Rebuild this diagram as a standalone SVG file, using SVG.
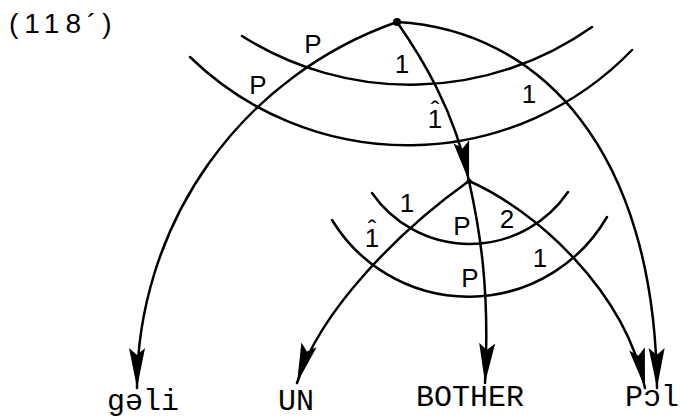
<svg xmlns="http://www.w3.org/2000/svg" width="680" height="419" viewBox="0 0 680 419">
<style>
.ln{fill:none;stroke:#000;stroke-width:2.5;stroke-linecap:round}
.lb{font-family:"Liberation Sans",Arial,sans-serif;font-size:26px;fill:#000;text-anchor:middle}
.tw{font-family:"Liberation Mono","Courier New",monospace;font-size:30px;fill:#000;text-anchor:middle}
</style>
<defs>
<marker id="ah" markerUnits="userSpaceOnUse" markerWidth="50" markerHeight="24" viewBox="-45 -12 50 24" refX="0" refY="0" orient="auto">
<path d="M0,0 L-40,-8 L-33,0 L-40,8 Z" fill="#000"/>
</marker>
</defs>
<rect width="680" height="419" fill="#fff"/>
<text x="9" y="33" font-family="Liberation Sans,Arial,sans-serif" font-size="28" letter-spacing="6" fill="#000">(118´)</text>
<g id="arcs">
<path class="ln" d="M242,36 A315,315 0 0,0 592,27"/>
<path class="ln" d="M190,57 A312,312 0 0,0 632,50"/>
<path class="ln" d="M372,193 A119,119 0 0,0 568,192"/>
<path class="ln" d="M332,220 A160,160 0 0,0 607,217"/>
</g>
<g id="connectors">
<path class="ln" d="M397,22 A388,388 0 0,0 137,388" marker-end="url(#ah)"/>
<path class="ln" d="M397,22 C540,30 655,150 657,388" marker-end="url(#ah)"/>
<path class="ln" d="M397,22 C420,55 455,110 469,181" marker-end="url(#ah)"/>
<path class="ln" d="M469,181 C400,230 320,310 297,383" marker-end="url(#ah)"/>
<path class="ln" d="M469,181 C480,230 490,290 485,383" marker-end="url(#ah)"/>
<path class="ln" d="M469,181 C535,210 625,290 645,388" marker-end="url(#ah)"/>
</g>
<g id="node-top"><circle cx="397" cy="22" r="4" fill="#000"/></g>
<g id="node-mid"><circle cx="469" cy="181" r="2.5" fill="#000"/></g>
<g id="labels">
<text class="lb" x="313" y="53">P</text>
<text class="lb" x="258" y="94">P</text>
<text class="lb" x="402" y="73">1</text>
<text class="lb"><tspan x="435" y="128">1</tspan><tspan x="435" y="119">ˆ</tspan></text>
<text class="lb" x="529" y="103">1</text>
<text class="lb" x="407" y="212">1</text>
<text class="lb"><tspan x="372" y="247">1</tspan><tspan x="372" y="238">ˆ</tspan></text>
<text class="lb" x="462" y="235">P</text>
<text class="lb" x="507" y="228">2</text>
<text class="lb" x="470" y="287">P</text>
<text class="lb" x="540" y="267">1</text>
</g>
<g id="node-geli"><text class="tw" x="143" y="410">gəli</text></g>
<g id="node-UN"><text class="tw" x="296" y="410">UN</text></g>
<g id="node-BOTHER"><text class="tw" x="470" y="406">BOTHER</text></g>
<g id="node-Pol"><text class="tw" x="652" y="406">Pɔl</text></g>
</svg>
